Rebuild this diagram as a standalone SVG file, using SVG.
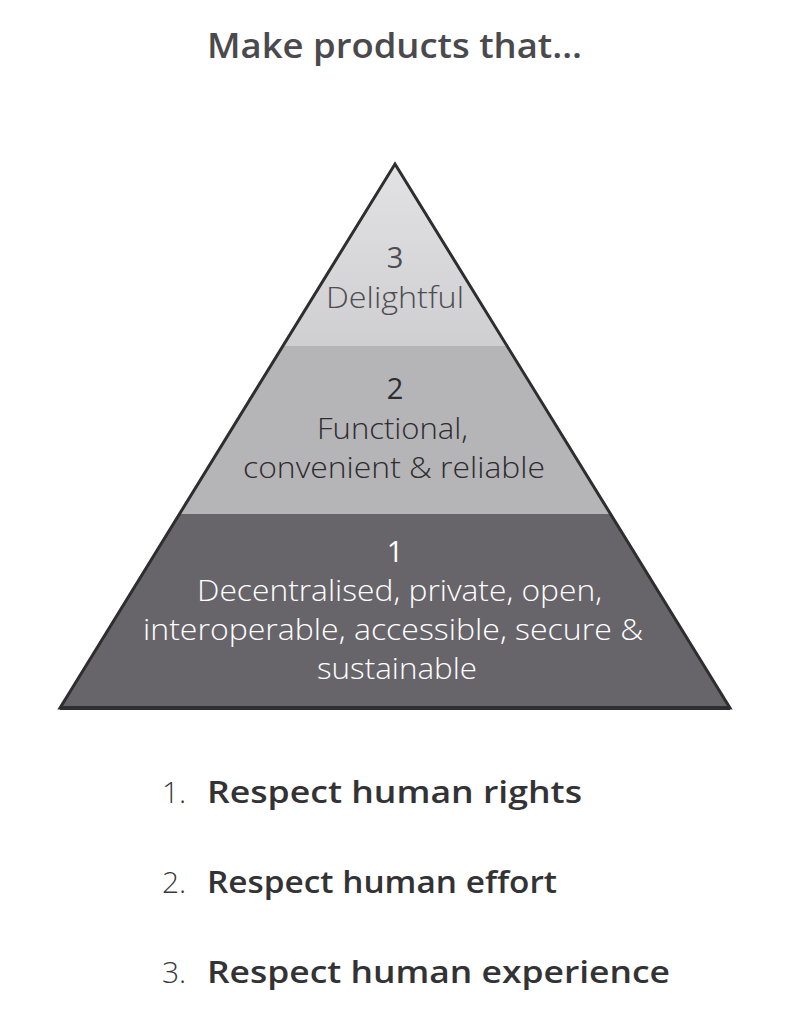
<svg xmlns="http://www.w3.org/2000/svg" width="788" height="1024" viewBox="0 0 788 1024">
<style>
text{font-family:"Open Sans",Lato,"Liberation Sans",sans-serif}
.num{font-size:29px;font-weight:400;text-anchor:middle}
.lbl{font-size:29px;font-weight:300}
.li{font-size:30px;font-weight:300;fill:#3a393c}
.lb{font-size:31px;font-weight:600;fill:#333235}
</style>
<defs>
<linearGradient id="g3" x1="0" y1="0" x2="0" y2="1">
<stop offset="0" stop-color="#e2e1e3"/><stop offset="1" stop-color="#cfced1"/>
</linearGradient>
</defs>
<rect width="788" height="1024" fill="#ffffff"/>
<text x="207" y="58" textLength="375" lengthAdjust="spacingAndGlyphs" style="font-size:35px;font-weight:600;fill:#4a494d">Make products that…</text>
<g id="level3">
<polygon points="395,164 283,346 507,346" fill="url(#g3)"/>
<text class="num" x="395" y="268" fill="#4d4c50">3</text>
<text class="lbl" x="326" y="308" textLength="138" lengthAdjust="spacingAndGlyphs" fill="#4d4c50">Delightful</text>
</g>
<g id="level2">
<polygon points="283,346 507,346 610,514 179,514" fill="#b5b4b7"/>
<text class="num" x="395" y="399" fill="#2d2c2e">2</text>
<text class="lbl" x="317" y="439" textLength="151" lengthAdjust="spacingAndGlyphs" fill="#2d2c2e">Functional,</text>
<text class="lbl" x="243" y="478" textLength="302" lengthAdjust="spacingAndGlyphs" fill="#2d2c2e">convenient &amp; reliable</text>
</g>
<g id="level1">
<polygon points="179,514 610,514 730,708 60,708" fill="#67656a"/>
<text class="num" x="395" y="562" fill="#ffffff">1</text>
<text class="lbl" x="197" y="601" textLength="405" lengthAdjust="spacingAndGlyphs" fill="#ffffff">Decentralised, private, open,</text>
<text class="lbl" x="143" y="640" textLength="500" lengthAdjust="spacingAndGlyphs" fill="#ffffff">interoperable, accessible, secure &amp;</text>
<text class="lbl" x="317" y="679" textLength="160" lengthAdjust="spacingAndGlyphs" fill="#ffffff">sustainable</text>
</g>
<polygon points="395,164 730,708 60,708" fill="none" stroke="#2e2d30" stroke-width="3" stroke-linejoin="miter"/>
<line x1="60" y1="708" x2="730" y2="708" stroke="#2e2d30" stroke-width="4"/>
<g id="list">
<text class="li" x="162" y="803">1.</text><text class="lb" x="207" y="803" textLength="375" lengthAdjust="spacingAndGlyphs">Respect human rights</text>
<text class="li" x="162" y="893">2.</text><text class="lb" x="207" y="893" textLength="350" lengthAdjust="spacingAndGlyphs">Respect human effort</text>
<text class="li" x="162" y="983">3.</text><text class="lb" x="207" y="983" textLength="463" lengthAdjust="spacingAndGlyphs">Respect human experience</text>
</g>
</svg>
